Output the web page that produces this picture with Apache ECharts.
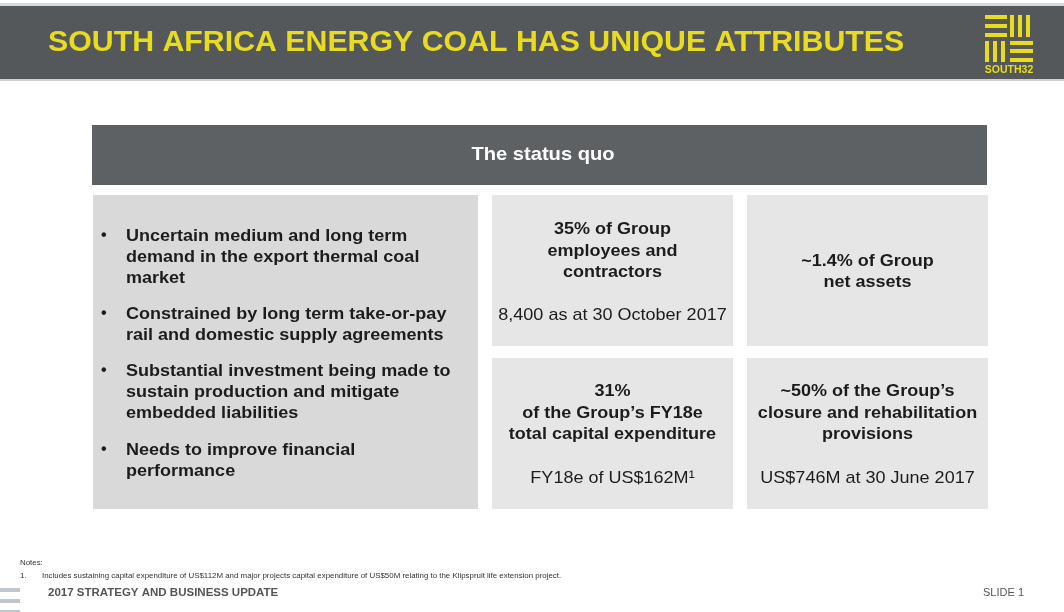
<!DOCTYPE html>
<html>
<head>
<meta charset="utf-8">
<script src="https://cdn.jsdelivr.net/npm/echarts@6/dist/echarts.min.js"></script>
<style>
  html, body { margin: 0; padding: 0; background: #fff; }
  #main { width: 1064px; height: 612px; }
</style>
</head>
<body>
<div id="main"></div>
<script>
var titleText = 'SOUTH AFRICA ENERGY COAL HAS UNIQUE ATTRIBUTES'
var tableHeader = 'The status quo'
var bulletLines = [
  ['Uncertain medium and long term', 'demand in the export thermal coal', 'market'],
  ['Constrained by long term take-or-pay', 'rail and domestic supply agreements'],
  ['Substantial investment being made to', 'sustain production and mitigate', 'embedded liabilities'],
  ['Needs to improve financial', 'performance']
]
var bulletTops = [236, 314, 371, 450]
var cellHeads = [
  '35% of Group\nemployees and\ncontractors',
  '~1.4% of Group\nnet assets',
  '31%\nof the Group\u2019s FY18e\ntotal capital expenditure',
  '~50% of the Group\u2019s\nclosure and rehabilitation\nprovisions'
]
var cellNotes = ['8,400 as at 30 October 2017', '', 'FY18e of US$162M\u00b9', 'US$746M at 30 June 2017']
var footNotes = ['Notes:', 'Includes sustaining capital expenditure of US$112M and major projects capital expenditure of US$50M relating to the Klipspruit life extension project.']
var footerText = '2017 STRATEGY AND BUSINESS UPDATE'
var slideText = 'SLIDE 1'

var font = '"Liberation Sans", Arial, sans-serif'
var yellow = '#e9dc1f'
var textDark = '#1c1c1c'
var sx = 1.06 // body text in the slide is a little wider than Liberation Sans

var chart = echarts.init(document.getElementById('main'))
var g = []

// header band
g.push({ type: 'rect', shape: { x: 0, y: 3, width: 1064, height: 3 }, style: { fill: '#d9d9d9' } })
g.push({ type: 'rect', shape: { x: 0, y: 6, width: 1064, height: 73 }, style: { fill: '#55585b' } })
g.push({ type: 'rect', shape: { x: 0, y: 79, width: 1064, height: 2 }, style: { fill: '#cfd1d3' } })
g.push({ type: 'text', x: 48, y: 43, style: { text: titleText, font: 'bold 30.3px ' + font, fill: yellow, textVerticalAlign: 'middle' } })

// logo
var lx = 985, rx = 1010
;[15, 24, 33].forEach(function (y) {
  g.push({ type: 'rect', shape: { x: lx, y: y, width: 22, height: 4 }, style: { fill: yellow } })
})
;[1010, 1018, 1026].forEach(function (x) {
  g.push({ type: 'rect', shape: { x: x, y: 15, width: 4, height: 22 }, style: { fill: yellow } })
})
;[985, 993, 1001].forEach(function (x) {
  g.push({ type: 'rect', shape: { x: x, y: 41, width: 4, height: 21 }, style: { fill: yellow } })
})
;[41, 49, 58].forEach(function (y) {
  g.push({ type: 'rect', shape: { x: rx, y: y, width: 23, height: 4 }, style: { fill: yellow } })
})
g.push({ type: 'text', x: 1009, y: 70, style: { text: 'SOUTH32', font: 'bold 10.5px ' + font, fill: yellow, textAlign: 'center', textVerticalAlign: 'middle' } })

// table header
g.push({ type: 'rect', shape: { x: 92, y: 125, width: 895, height: 60 }, style: { fill: '#5e6164' } })
g.push({ type: 'text', x: 543, y: 155, scaleX: sx, style: { text: tableHeader, font: 'bold 19px ' + font, fill: '#ffffff', textAlign: 'center', textVerticalAlign: 'middle' } })

// left box with bullets
g.push({ type: 'rect', shape: { x: 93, y: 195, width: 385, height: 314 }, style: { fill: '#d9d9d9' } })
bulletLines.forEach(function (lines, i) {
  g.push({ type: 'text', x: 101, y: bulletTops[i], style: { text: '\u2022', font: 'bold 16px ' + font, fill: textDark, textVerticalAlign: 'middle' } })
  lines.forEach(function (line, j) {
    g.push({ type: 'text', x: 126, y: bulletTops[i] + j * 21.3, scaleX: sx, style: { text: line, font: 'bold 17px ' + font, fill: textDark, textVerticalAlign: 'middle' } })
  })
})

// four cells
var cells = [
  { x: 492, y: 195, head: 251, note: 315 },
  { x: 747, y: 195, head: 272, note: 0 },
  { x: 492, y: 358, head: 413, note: 478 },
  { x: 747, y: 358, head: 413, note: 478 }
]
cells.forEach(function (c, i) {
  g.push({ type: 'rect', shape: { x: c.x, y: c.y, width: 241, height: 151 }, style: { fill: '#e6e6e6' } })
  g.push({ type: 'text', x: c.x + 120.5, y: c.head, scaleX: sx, style: { text: cellHeads[i], font: 'bold 17px ' + font, lineHeight: 21.5, fill: textDark, textAlign: 'center', textVerticalAlign: 'middle' } })
  if (cellNotes[i]) {
    g.push({ type: 'text', x: c.x + 120.5, y: c.note, scaleX: sx, style: { text: cellNotes[i], font: '17px ' + font, fill: textDark, textAlign: 'center', textVerticalAlign: 'middle' } })
  }
})

// notes and footer
g.push({ type: 'text', x: 20, y: 563, style: { text: footNotes[0], font: '7.9px ' + font, fill: '#333', textVerticalAlign: 'middle' } })
g.push({ type: 'text', x: 20, y: 576, style: { text: '1.', font: '7.9px ' + font, fill: '#333', textVerticalAlign: 'middle' } })
g.push({ type: 'text', x: 42, y: 576, style: { text: footNotes[1], font: '7.9px ' + font, fill: '#333', textVerticalAlign: 'middle' } })
;[588, 599, 610].forEach(function (y) {
  g.push({ type: 'rect', shape: { x: 0, y: y, width: 20, height: 4 }, style: { fill: '#bfc6cd' } })
})
g.push({ type: 'text', x: 48, y: 593, style: { text: footerText, font: 'bold 11.5px ' + font, fill: '#555', textVerticalAlign: 'middle' } })
g.push({ type: 'text', x: 1024, y: 593, style: { text: slideText, font: '11px ' + font, fill: '#555', textAlign: 'right', textVerticalAlign: 'middle' } })

chart.setOption({
  animation: false,
  graphic: { elements: g }
})
</script>
</body>
</html>
